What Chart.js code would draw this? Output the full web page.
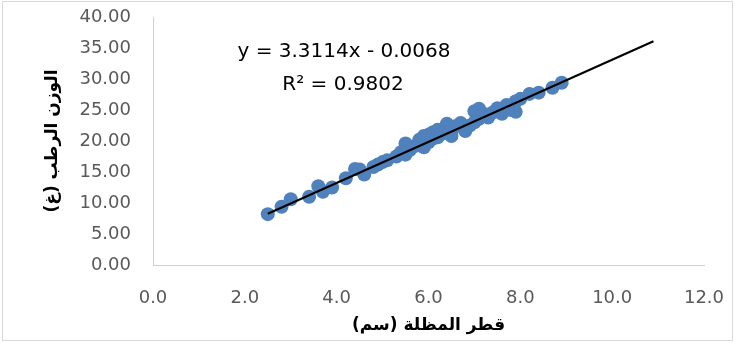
<!DOCTYPE html>
<html>
<head>
<meta charset="utf-8">
<script src="https://cdn.jsdelivr.net/npm/chart.js@4/dist/chart.umd.min.js"></script>
<style>
html,body{margin:0;padding:0;background:#fff;}
#wrap{width:735px;height:343px;position:relative;}
</style>
</head>
<body>
<div id="wrap"><canvas id="c" width="735" height="343"></canvas></div>
<script>
// Umbrella diameter (cm)
const diameters = [2.5, 2.8, 3.0, 3.4, 3.6, 3.7, 3.9, 4.2, 4.4, 4.5, 4.6, 4.8, 4.9, 5.0, 5.1, 5.3, 5.4, 5.5, 5.5, 5.6,
                   5.7, 5.8, 5.9, 5.9, 6.0, 6.0, 6.1, 6.1, 6.2, 6.2, 6.3, 6.4, 6.5, 6.5, 6.6, 6.7, 6.8, 6.9, 7.0, 7.0,
                   7.1, 7.1, 7.2, 7.3, 7.4, 7.5, 7.6, 7.7, 7.8, 7.9, 7.9, 8.0, 8.2, 8.4, 8.7, 8.9];
// Fresh weight (g)
const weights   = [8.2, 9.4, 10.6, 11.0, 12.7, 11.8, 12.5, 14.0, 15.5, 15.4, 14.6, 15.8, 16.2, 16.6, 16.9, 17.5, 18.2, 19.6, 17.8, 18.6,
                   19.2, 20.2, 19.0, 20.8, 21.0, 19.8, 21.4, 20.4, 21.8, 20.6, 21.2, 22.8, 21.6, 20.8, 22.4, 22.9, 21.6, 22.5, 24.8, 23.0,
                   25.2, 23.6, 24.4, 23.8, 24.6, 25.3, 24.4, 25.8, 25.0, 26.4, 24.7, 26.8, 27.6, 27.8, 28.6, 29.4];
// Linear trendline end points
const trendX = [2.5, 10.9];
const trendY = [8.27, 36.09];
const xTicks = [0, 2, 4, 6, 8, 10, 12];
const yTicks = [0, 5, 10, 15, 20, 25, 30, 35, 40];
const equationText = "y = 3.3114x - 0.0068";
const r2Text = "R² = 0.9802";
const xTitle = "قطر المظلة (سم)\u200F";
const yTitle = "الوزن الرطب (غ)\u200F";

const points = diameters.map((d, i) => ({x: d, y: weights[i]}));
const trend = trendX.map((d, i) => ({x: d, y: trendY[i]}));

const frame = {
  id: 'frame',
  beforeDraw(chart) {
    const ctx = chart.ctx;
    ctx.save();
    ctx.fillStyle = '#ffffff';
    ctx.fillRect(0, 0, chart.width, chart.height);
    ctx.strokeStyle = '#d9d9d9';
    ctx.lineWidth = 1;
    ctx.strokeRect(2.5, 1.5, 730, 339);
    ctx.restore();
  },
  afterDraw(chart) {
    const ctx = chart.ctx;
    ctx.save();
    ctx.fillStyle = '#000000';
    ctx.font = '20px "DejaVu Sans"';
    ctx.textAlign = 'center';
    ctx.textBaseline = 'middle';
    ctx.fillText(equationText, 344, 52);
    ctx.fillText(r2Text, 343, 85);
    ctx.restore();
  }
};

new Chart(document.getElementById('c'), {
  type: 'scatter',
  data: {
    datasets: [
      {
        label: 'data',
        data: points,
        backgroundColor: '#4f81bd',
        borderColor: '#4f81bd',
        pointRadius: 7,
        pointHoverRadius: 7,
        borderWidth: 0,
        order: 2
      },
      {
        label: 'trend',
        type: 'line',
        data: trend,
        borderColor: '#000000',
        borderWidth: 2,
        pointRadius: 0,
        fill: false,
        order: 1
      }
    ]
  },
  options: {
    responsive: false,
    animation: false,
    devicePixelRatio: 1,
    layout: {padding: {left: 0, right: 31, top: 17, bottom: 0}},
    plugins: {legend: {display: false}, tooltip: {enabled: false}},
    scales: {
      x: {
        type: 'linear',
        min: 0, max: 12,
        afterBuildTicks(s) { s.ticks = xTicks.map(v => ({value: v})); },
        afterFit(s) { s.height = 78; s.paddingLeft = 0; s.paddingRight = 0; },
        grid: {display: true, drawOnChartArea: false, drawTicks: false},
        border: {display: true, color: '#d0d0d0', width: 1},
        ticks: {
          padding: 23,
          color: '#595959',
          font: {family: 'DejaVu Sans', size: 18},
          maxRotation: 0,
          callback: v => v.toFixed(1)
        },
        title: {
          display: true,
          text: xTitle,
          color: '#000000',
          font: {family: 'DejaVu Sans', size: 17, weight: 'bold'},
          padding: {top: 0, bottom: 7}
        }
      },
      y: {
        type: 'linear',
        min: 0, max: 40,
        afterBuildTicks(s) { s.ticks = yTicks.map(v => ({value: v})); },
        afterFit(s) { s.width = 153; s.paddingTop = 0; s.paddingBottom = 0; },
        grid: {display: true, drawOnChartArea: false, drawTicks: false},
        border: {display: true, color: '#d0d0d0', width: 1},
        ticks: {
          padding: 22,
          color: '#595959',
          font: {family: 'DejaVu Sans', size: 18},
          callback: v => v.toFixed(2)
        },
        title: {
          display: true,
          text: yTitle,
          color: '#000000',
          font: {family: 'DejaVu Sans', size: 17, weight: 'bold'},
          padding: {top: 42, bottom: 0}
        }
      }
    }
  },
  plugins: [frame]
});
</script>
</body>
</html>
